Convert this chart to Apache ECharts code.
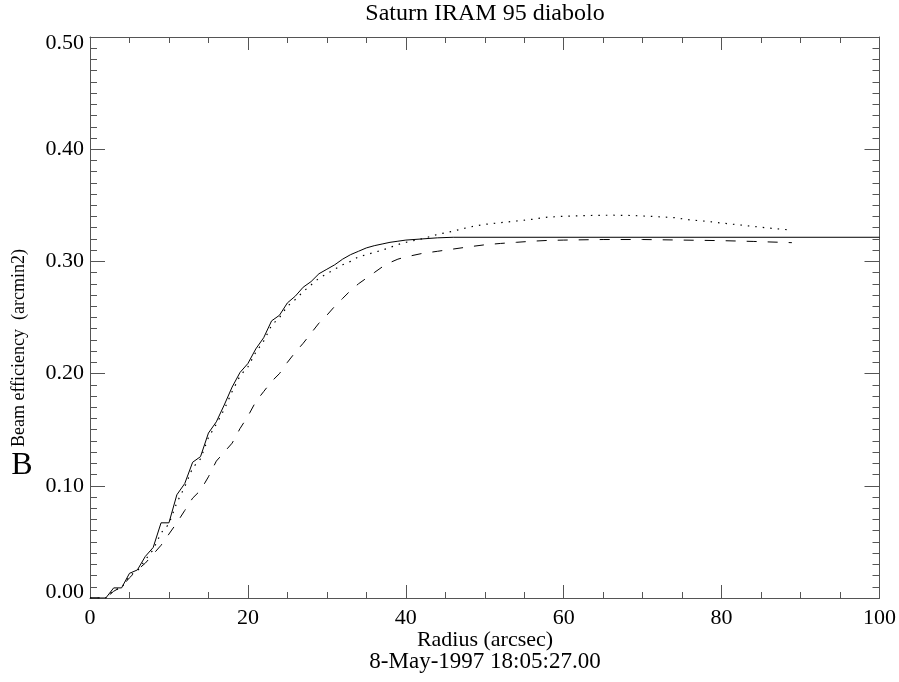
<!DOCTYPE html>
<html>
<head>
<meta charset="utf-8">
<script src="https://cdn.jsdelivr.net/npm/echarts@6/dist/echarts.min.js"></script>
<style>html,body{margin:0;padding:0;background:#fff}#c{width:899px;height:682px}</style>
</head>
<body>
<div id="c"></div>
<script>
// ---- data ----
var solidX = [0,1,2,3,4,5,6,7,8,9,10,11,12,13,14,15,16,17,18,19,20,21,22,23,24,25,26,27,28,29,30,31,32,33,34,35,36,37,38,39,40,42,44,46,100];
var solidY = [0,0,0,0.009,0.009,0.022,0.025,0.037,0.045,0.067,0.067,0.092,0.102,0.121,0.126,0.147,0.157,0.172,0.188,0.201,0.209,0.222,0.232,0.247,0.252,0.263,0.269,0.277,0.282,0.289,0.293,0.297,0.302,0.306,0.309,0.312,0.314,0.3155,0.317,0.318,0.319,0.320,0.321,0.3215,0.3215];

var dottedX = [0,2,3,4,5,6,7,8,9,10,11,12,13,14,15,16,17,18,19,20,21,22,23,24,25,26,27,28,29,30,31,32,33,34,35,36,37,38,39,40,42,44,46,48,50,52,54,56,58,60,62,64,66,68,70,72,74,76,78,80,82,84,86,88.7];
var dottedY = [0,0,0.007,0.009,0.02,0.024,0.034,0.043,0.058,0.066,0.085,0.099,0.116,0.124,0.143,0.155,0.168,0.184,0.198,0.206,0.219,0.229,0.243,0.25,0.26,0.266,0.273,0.279,0.285,0.289,0.293,0.297,0.3,0.304,0.306,0.308,0.31,0.3125,0.315,0.317,0.32,0.324,0.327,0.3305,0.333,0.3345,0.336,0.3375,0.3395,0.3402,0.3407,0.341,0.3412,0.341,0.3405,0.3398,0.339,0.337,0.3358,0.3342,0.3327,0.3312,0.3297,0.328];

var dashedX = [0,2,3,4,5,6,7,8,9,10,11,12,13,14,15,16,17,18,19,20,21,22,23,24,25,26,27,28,29,30,31,32,33,34,35,36,37,38,39,40,42,44,46,48,50,52,54,56,58,60,65,70,75,80,84,88.9];
var dashedY = [0,0,0.006,0.01,0.018,0.025,0.031,0.039,0.047,0.057,0.067,0.078,0.089,0.096,0.108,0.122,0.13,0.138,0.151,0.162,0.175,0.184,0.193,0.2,0.21,0.219,0.227,0.236,0.245,0.252,0.26,0.267,0.274,0.28,0.285,0.29,0.295,0.299,0.302,0.304,0.307,0.309,0.311,0.313,0.3148,0.316,0.317,0.318,0.3187,0.319,0.3195,0.3195,0.319,0.3185,0.3178,0.3167];

var titleText = 'Saturn IRAM 95 diabolo';
var xName = 'Radius (arcsec)';
var dateText = '8-May-1997 18:05:27.00';
var yBig = 'B';
var yName = 'Beam efficiency  (arcmin2)';

function pairs(xs, ys){ return xs.map(function(x,i){ return [x, ys[i]]; }); }

var FONT = '"Liberation Serif", "Times New Roman", serif';
var axisColor = '#555';

function xAx(pos, showLabel){
  return {
    type:'value', position:pos, min:0, max:100, interval:20,
    axisLine:{show:true, onZero:false, lineStyle:{color:axisColor, width:1}},
    axisTick:{show:true, inside:true, length:13, lineStyle:{color:axisColor}},
    minorTick:{show:true, splitNumber:4, length:6, lineStyle:{color:axisColor}},
    splitLine:{show:false},
    axisLabel:{show:showLabel, margin:9, fontFamily:FONT, fontSize:22, color:'#000'}
  };
}
function yAx(pos, showLabel){
  return {
    type:'value', position:pos, min:0, max:0.5, interval:0.1,
    axisLine:{show:true, onZero:false, lineStyle:{color:axisColor, width:1}},
    axisTick:{show:true, inside:true, length:15, lineStyle:{color:axisColor}},
    minorTick:{show:true, splitNumber:10, length:7, lineStyle:{color:axisColor}},
    splitLine:{show:false},
    axisLabel:{show:showLabel, margin:6, fontFamily:FONT, fontSize:22, lineHeight:12, color:'#000',
      formatter:function(v){return v.toFixed(2);},
      verticalAlignMinLabel:'bottom', verticalAlignMaxLabel:'top'}
  };
}

var chart = echarts.init(document.getElementById('c'), null, {renderer:'canvas'});
chart.setOption({
  animation:false,
  backgroundColor:'#fff',
  grid:{left:90, right:19, top:37, bottom:84, containLabel:false},
  xAxis:[xAx('bottom', true), xAx('top', false)],
  yAxis:[yAx('left', true), yAx('right', false)],
  series:[
    {type:'line', data:pairs(solidX, solidY), showSymbol:false, symbol:'none',
     lineStyle:{color:'#000', width:1, type:'solid'}},
    {type:'line', data:pairs(dottedX, dottedY), showSymbol:false, symbol:'none',
     lineStyle:{color:'#000', width:1.2, type:[1.5,6]}},
    {type:'line', data:pairs(dashedX, dashedY), showSymbol:false, symbol:'none',
     lineStyle:{color:'#000', width:1, type:[10,11]}}
  ],
  graphic:[
    {type:'text', x:485, y:14, style:{text:titleText, font:'24px '+FONT, fill:'#000', textAlign:'center', textVerticalAlign:'middle'}},
    {type:'text', x:485, y:640, style:{text:xName, font:'22px '+FONT, fill:'#000', textAlign:'center', textVerticalAlign:'middle'}},
    {type:'text', x:485, y:662, style:{text:dateText, font:'23px '+FONT, fill:'#000', textAlign:'center', textVerticalAlign:'middle'}},
    {type:'text', x:22, y:466, style:{text:yBig, font:'32px '+FONT, fill:'#000', textAlign:'center', textVerticalAlign:'middle'}},
    {type:'text', x:19, y:348, rotation:Math.PI/2, style:{text:yName, font:'18px '+FONT, fill:'#000', textAlign:'center', textVerticalAlign:'middle'}}
  ]
});
</script>
</body>
</html>
